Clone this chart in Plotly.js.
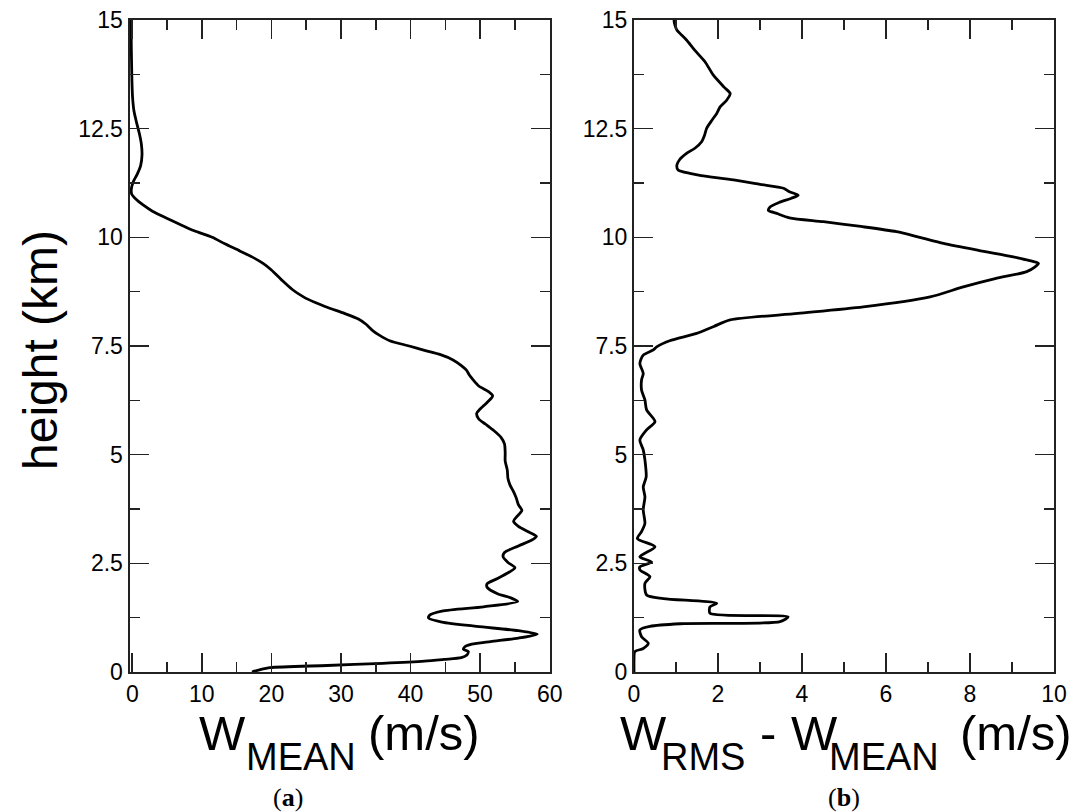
<!DOCTYPE html>
<html>
<head>
<meta charset="utf-8">
<script src="https://cdn.plot.ly/plotly-3.0.1.min.js"></script>
<style>html,body{margin:0;padding:0;background:#fff;}#chart{width:1078px;height:812px;}</style>
</head>
<body>
<div id="chart"></div>
<script>
// Panel (a): mean vertical velocity profile
const heightA = [0.00,0.05,0.10,0.15,0.20,0.25,0.29,0.33,0.39,0.47,0.52,0.58,0.64,0.70,0.78,0.87,0.95,1.05,1.15,1.24,1.30,1.40,1.50,1.62,1.70,1.80,1.95,2.03,2.15,2.30,2.40,2.52,2.65,2.75,2.90,3.05,3.12,3.22,3.35,3.47,3.58,3.72,3.85,4.00,4.15,4.30,4.45,4.65,4.85,5.05,5.25,5.40,5.55,5.70,5.82,5.95,6.05,6.20,6.35,6.45,6.58,6.72,6.82,6.95,7.05,7.18,7.30,7.40,7.50,7.62,7.75,7.85,8.00,8.12,8.25,8.38,8.50,8.63,8.80,9.00,9.25,9.40,9.55,9.70,9.85,10.00,10.15,10.30,10.45,10.60,10.75,10.88,11.00,11.15,11.30,11.45,11.65,11.90,12.15,12.40,12.65,12.90,13.20,13.60,14.00,14.50,15.00];
const wMean = [17.2,18.3,19.8,28.0,36.0,42.0,44.8,47.3,48.1,48.3,47.6,47.8,48.8,51.5,55.5,58.2,55.5,49.5,44.5,42.6,42.7,44.5,50.5,55.4,54.5,52.5,51.0,51.0,52.5,54.2,55.0,54.0,53.3,53.5,55.5,57.6,58.1,57.0,55.5,54.8,55.3,56.0,55.5,55.2,54.8,54.3,54.0,53.9,53.6,53.6,53.5,53.0,52.0,50.8,49.8,49.5,50.0,51.0,51.8,51.2,49.8,49.0,48.5,48.0,47.3,46.1,44.3,42.0,39.8,37.0,35.5,34.6,33.6,32.5,30.5,28.2,26.3,24.6,23.0,21.6,20.0,18.8,17.2,15.3,13.3,11.5,8.9,6.8,4.8,2.9,1.5,0.5,-0.1,-0.1,0.2,0.7,1.2,1.4,1.3,1.0,0.6,0.25,0.05,-0.05,-0.1,-0.15,-0.15];

// Panel (b): W_RMS - W_MEAN profile
const heightB = [0.00,0.05,0.28,0.47,0.54,0.66,0.81,0.97,1.05,1.11,1.16,1.27,1.35,1.50,1.58,1.69,1.77,2.04,2.19,2.35,2.42,2.53,2.65,2.88,3.07,3.23,3.42,3.73,4.03,4.26,4.49,4.88,5.11,5.34,5.57,5.76,6.03,6.26,6.49,6.72,6.87,7.10,7.29,7.41,7.48,7.62,7.79,7.95,8.10,8.25,8.40,8.63,8.86,9.05,9.21,9.32,9.40,9.47,9.55,9.70,9.86,10.00,10.13,10.25,10.36,10.45,10.55,10.62,10.70,10.80,10.90,10.97,11.05,11.13,11.22,11.32,11.42,11.47,11.55,11.66,11.78,11.93,12.05,12.20,12.35,12.51,12.70,12.85,13.00,13.16,13.31,13.45,13.73,14.04,14.30,14.54,14.77,14.90,15.00];
const wDiff = [0.00,0.00,0.00,0.02,0.22,0.34,0.18,0.14,0.38,1.10,3.48,3.67,1.81,1.81,1.97,0.70,0.30,0.26,0.38,0.14,0.14,0.42,0.14,0.50,0.08,0.18,0.26,0.22,0.26,0.22,0.29,0.26,0.22,0.14,0.30,0.50,0.30,0.26,0.18,0.18,0.22,0.14,0.22,0.46,0.54,0.85,1.49,1.90,2.29,3.90,5.46,7.05,7.84,8.60,9.35,9.55,9.63,9.40,9.03,8.20,7.37,6.80,6.25,5.40,4.51,3.70,3.40,3.20,3.24,3.45,3.75,3.91,3.70,3.56,3.00,2.37,1.60,1.33,1.05,1.02,1.08,1.25,1.45,1.61,1.68,1.73,1.86,1.97,2.05,2.21,2.29,2.15,1.89,1.69,1.45,1.25,1.02,0.97,0.95];

const xTicksA = [0,10,20,30,40,50,60];
const xTicksB = [0,2,4,6,8,10];
const yTicks = [0,2.5,5,7.5,10,12.5,15];
const yTickText = ['0','2.5','5','7.5','10','12.5','15'];

const W = 1078, H = 812;
const px = v => v / W;
const py = v => 1 - v / H;

const lineStyle = {color: '#000', width: 2.8, shape: 'spline', smoothing: 0.7};
const traces = [
  {x: wMean, y: heightA, type: 'scatter', mode: 'lines', line: lineStyle, xaxis: 'x', yaxis: 'y', hoverinfo: 'x+y'},
  {x: wDiff, y: heightB, type: 'scatter', mode: 'lines', line: lineStyle, xaxis: 'x2', yaxis: 'y2', hoverinfo: 'x+y'}
];

const tickFont = {family: 'Liberation Sans, Arial, sans-serif', size: 23, color: '#000'};
function axisBase(extra) {
  return Object.assign({
    showline: true, linecolor: '#222', linewidth: 2, mirror: 'ticks',
    ticks: 'inside', ticklen: 19, tickwidth: 1.6, tickcolor: '#222',
    showgrid: false, zeroline: false, tickfont: tickFont, automargin: false,
    fixedrange: true
  }, extra);
}

const annFont = (size, fam) => ({family: fam || 'Liberation Sans, Arial, sans-serif', size: size, color: '#000'});
function ann(text, x, y, size, fam, extra) {
  return Object.assign({text: text, xref: 'paper', yref: 'paper', x: px(x), y: py(y),
    xanchor: 'center', yanchor: 'middle', showarrow: false, font: annFont(size, fam)}, extra || {});
}

const layout = {
  width: W, height: H,
  margin: {l: 0, r: 0, t: 0, b: 0},
  paper_bgcolor: '#fff', plot_bgcolor: '#fff',
  showlegend: false,
  xaxis: axisBase({domain: [px(129.5), px(549.7)], range: [-0.4, 60], tickvals: xTicksA, ticktext: xTicksA.map(String),
    minor: {tickvals: [5,15,25,35,45,55], ticklen: 10, tickwidth: 1.6, tickcolor: '#222', ticks: 'inside'}, anchor: 'y'}),
  yaxis: axisBase({domain: [py(672), py(20)], range: [0, 15], tickvals: yTicks, ticktext: yTickText,
    minor: {tickvals: [1.25,3.75,6.25,8.75,11.25,13.75], ticklen: 10, tickwidth: 1.6, tickcolor: '#222', ticks: 'inside'}, anchor: 'x'}),
  xaxis2: axisBase({domain: [px(634), px(1054)], range: [0, 10], tickvals: xTicksB, ticktext: xTicksB.map(String),
    minor: {tickvals: [1,3,5,7,9], ticklen: 10, tickwidth: 1.6, tickcolor: '#222', ticks: 'inside'}, anchor: 'y2'}),
  yaxis2: axisBase({domain: [py(672), py(20)], range: [0, 15], tickvals: yTicks, ticktext: yTickText,
    minor: {tickvals: [1.25,3.75,6.25,8.75,11.25,13.75], ticklen: 10, tickwidth: 1.6, tickcolor: '#222', ticks: 'inside'}, anchor: 'x2'}),
  annotations: [
    ann('height (km)', 40, 350, 48, null, {textangle: -90}),
    ann('W', 222.5, 733, 49),
    ann('MEAN', 301, 757, 38),
    ann('(m/s)', 424, 733, 49),
    ann('W', 643, 733, 49),
    ann('RMS', 703, 757, 38),
    ann('-', 767.5, 733, 49),
    ann('W', 814, 733, 49),
    ann('MEAN', 884, 757, 38),
    ann('(m/s)', 1016, 733, 49),
    ann('(<b>a</b>)', 288, 797, 26, 'Liberation Serif, Times New Roman, serif'),
    ann('(<b>b</b>)', 844, 797, 26, 'Liberation Serif, Times New Roman, serif')
  ]
};

Plotly.newPlot('chart', traces, layout, {displayModeBar: false, staticPlot: true});
</script>
</body>
</html>
